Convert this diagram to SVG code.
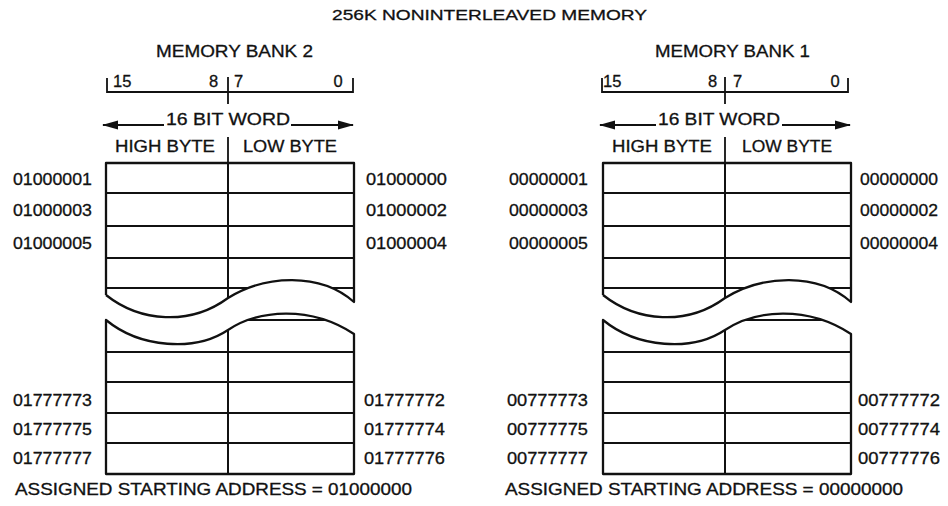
<svg xmlns="http://www.w3.org/2000/svg" xmlns:xlink="http://www.w3.org/1999/xlink" width="948" height="506" viewBox="0 0 948 506">
<style>
  text { font-family: "Liberation Sans", Arial, sans-serif; fill: #111; stroke: #111; stroke-width: 0.3; }
  .t16 { font-size: 16.5px; }
  .addr { font-size: 17px; }
  .out { fill: none; stroke: #111; stroke-width: 2.3; stroke-linejoin: round; }
  .in { fill: none; stroke: #111; stroke-width: 2; }
  .brk { fill: none; stroke: #111; stroke-width: 1.8; }
  .arr { fill: none; stroke: #111; stroke-width: 1.8; marker-end: url(#ah); }
</style>
<defs>
  <marker id="ah" viewBox="0 0 16 10" refX="15" refY="5" markerWidth="16" markerHeight="10" markerUnits="userSpaceOnUse" orient="auto">
    <path d="M0,0.6 L16,5 L0,9.4 Z" fill="#111"/>
  </marker>
  <clipPath id="clipUp">
    <path d="M106,163 H354 V302 C320,272 265,275 228,298 C190,326 140,322 106,295 Z"/>
  </clipPath>
  <clipPath id="clipLow">
    <path d="M106,320 C140,348 195,352 228,330 C258,310 310,305 354,334 V474 H106 Z"/>
  </clipPath>
  <g id="grid">
    <g clip-path="url(#clipUp)" class="in">
      <path d="M106,193 H354 M106,226 H354 M106,258 H354 M106,288 H354 M228,163 V320"/>
    </g>
    <g clip-path="url(#clipLow)" class="in">
      <path d="M106,320 H354 M106,352 H354 M106,382 H354 M106,413 H354 M106,443 H354 M228,300 V474"/>
    </g>
    <path class="out" d="M106,295 V163 H354 V302 C320,272 265,275 228,298 C190,326 140,322 106,295"/>
    <path class="out" d="M106,320 C140,348 195,352 228,330 C258,310 310,305 354,334 V474 H106 Z"/>
  </g>
</defs>

<g id="title">
  <text x="332" y="20" font-size="15" textLength="315" lengthAdjust="spacingAndGlyphs">256K NONINTERLEAVED MEMORY</text>
</g>

<g id="bank2">
  <text class="t16" x="156" y="57" textLength="157" lengthAdjust="spacingAndGlyphs">MEMORY BANK 2</text>
  <path class="brk" d="M107,78 V92 H353 V78 M228,77 V104 M228,137 V163"/>
  <text class="t16" x="113" y="87">15</text>
  <text class="t16" x="213.5" y="87" text-anchor="middle">8</text>
  <text class="t16" x="238.5" y="87" text-anchor="middle">7</text>
  <text class="t16" x="338" y="87" text-anchor="middle">0</text>
  <text class="t16" x="166" y="125" textLength="124" lengthAdjust="spacingAndGlyphs">16 BIT WORD</text>
  <text class="t16" x="115" y="152" textLength="100" lengthAdjust="spacingAndGlyphs">HIGH BYTE</text>
  <text class="t16" x="243" y="152" textLength="94" lengthAdjust="spacingAndGlyphs">LOW BYTE</text>
  <use xlink:href="#grid" href="#grid"/>
  <g class="addr">
    <text x="13" y="185" textLength="79" lengthAdjust="spacingAndGlyphs">01000001</text>
    <text x="13" y="216" textLength="79" lengthAdjust="spacingAndGlyphs">01000003</text>
    <text x="13" y="249" textLength="79" lengthAdjust="spacingAndGlyphs">01000005</text>
    <text x="13" y="406" textLength="79" lengthAdjust="spacingAndGlyphs">01777773</text>
    <text x="13" y="435" textLength="79" lengthAdjust="spacingAndGlyphs">01777775</text>
    <text x="13" y="464" textLength="79" lengthAdjust="spacingAndGlyphs">01777777</text>
    <text x="366" y="185" textLength="81" lengthAdjust="spacingAndGlyphs">01000000</text>
    <text x="366" y="216" textLength="81" lengthAdjust="spacingAndGlyphs">01000002</text>
    <text x="366" y="249" textLength="81" lengthAdjust="spacingAndGlyphs">01000004</text>
    <text x="364" y="406" textLength="81" lengthAdjust="spacingAndGlyphs">01777772</text>
    <text x="364" y="435" textLength="81" lengthAdjust="spacingAndGlyphs">01777774</text>
    <text x="364" y="464" textLength="81" lengthAdjust="spacingAndGlyphs">01777776</text>
  </g>
  <text class="t16" x="15" y="495" textLength="397" lengthAdjust="spacingAndGlyphs">ASSIGNED STARTING ADDRESS = 01000000</text>
</g>

<g id="bank1">
  <text class="t16" x="655" y="57" textLength="155" lengthAdjust="spacingAndGlyphs">MEMORY BANK 1</text>
  <path class="brk" d="M602,78 V92 H848 V78 M725,77 V104 M725,137 V163"/>
  <text class="t16" x="603" y="87">15</text>
  <text class="t16" x="712.5" y="87" text-anchor="middle">8</text>
  <text class="t16" x="737.5" y="87" text-anchor="middle">7</text>
  <text class="t16" x="835" y="87" text-anchor="middle">0</text>
  <text class="t16" x="658" y="125" textLength="122" lengthAdjust="spacingAndGlyphs">16 BIT WORD</text>
  <text class="t16" x="612" y="152" textLength="100" lengthAdjust="spacingAndGlyphs">HIGH BYTE</text>
  <text class="t16" x="742" y="152" textLength="90" lengthAdjust="spacingAndGlyphs">LOW BYTE</text>
  <use xlink:href="#grid" href="#grid" transform="translate(497,0)"/>
  <g class="addr">
    <text x="509" y="185" textLength="79" lengthAdjust="spacingAndGlyphs">00000001</text>
    <text x="509" y="216" textLength="79" lengthAdjust="spacingAndGlyphs">00000003</text>
    <text x="509" y="249" textLength="79" lengthAdjust="spacingAndGlyphs">00000005</text>
    <text x="507" y="406" textLength="81" lengthAdjust="spacingAndGlyphs">00777773</text>
    <text x="507" y="435" textLength="81" lengthAdjust="spacingAndGlyphs">00777775</text>
    <text x="507" y="464" textLength="81" lengthAdjust="spacingAndGlyphs">00777777</text>
    <text x="860" y="185" textLength="78" lengthAdjust="spacingAndGlyphs">00000000</text>
    <text x="860" y="216" textLength="78" lengthAdjust="spacingAndGlyphs">00000002</text>
    <text x="860" y="249" textLength="78" lengthAdjust="spacingAndGlyphs">00000004</text>
    <text x="858" y="406" textLength="82" lengthAdjust="spacingAndGlyphs">00777772</text>
    <text x="858" y="435" textLength="82" lengthAdjust="spacingAndGlyphs">00777774</text>
    <text x="858" y="464" textLength="82" lengthAdjust="spacingAndGlyphs">00777776</text>
  </g>
  <text class="t16" x="505" y="495" textLength="398" lengthAdjust="spacingAndGlyphs">ASSIGNED STARTING ADDRESS = 00000000</text>
</g>

<g id="connectors">
  <line class="arr" x1="164" y1="125" x2="103" y2="125"/>
  <line class="arr" x1="291" y1="125" x2="353" y2="125"/>
  <line class="arr" x1="656" y1="125" x2="600" y2="125"/>
  <line class="arr" x1="782" y1="125" x2="850" y2="125"/>
</g>
</svg>
